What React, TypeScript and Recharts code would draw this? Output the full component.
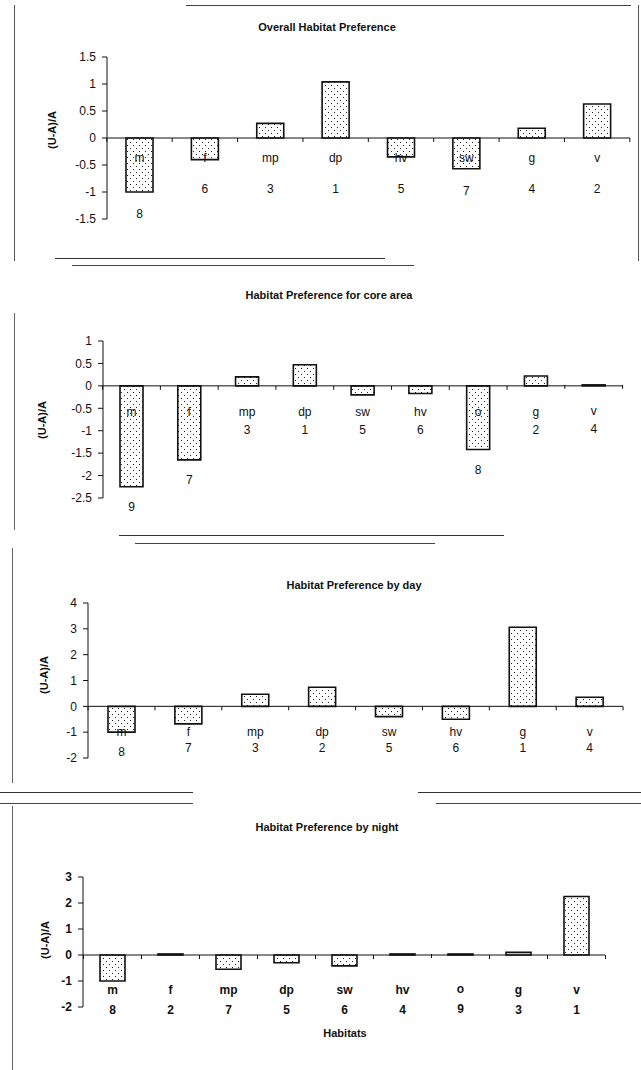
import React from 'react';
import { BarChart, Bar, XAxis, YAxis, ReferenceLine, LabelList } from 'recharts';

const FONT = '"Liberation Sans", Arial, sans-serif';
const W = 641;

// Overall habitat preference
const overallCats = ['m', 'f', 'mp', 'dp', 'hv', 'sw', 'g', 'v'];
const overallValues = [-1.0, -0.4, 0.27, 1.04, -0.35, -0.57, 0.18, 0.63];
const overallRanks = [8, 6, 3, 1, 5, 7, 4, 2];
const overallTicks = [-1.5, -1, -0.5, 0, 0.5, 1, 1.5];

// core area
const coreCats = ['m', 'f', 'mp', 'dp', 'sw', 'hv', 'o', 'g', 'v'];
const coreValues = [-2.25, -1.65, 0.2, 0.47, -0.2, -0.17, -1.42, 0.22, 0];
const coreRanks = [9, 7, 3, 1, 5, 6, 8, 2, 4];
const coreTicks = [-2.5, -2, -1.5, -1, -0.5, 0, 0.5, 1];

// by day
const dayCats = ['m', 'f', 'mp', 'dp', 'sw', 'hv', 'g', 'v'];
const dayValues = [-1.0, -0.68, 0.47, 0.74, -0.4, -0.5, 3.06, 0.35];
const dayRanks = [8, 7, 3, 2, 5, 6, 1, 4];
const dayTicks = [-2, -1, 0, 1, 2, 3, 4];

// by night
const nightCats = ['m', 'f', 'mp', 'dp', 'sw', 'hv', 'o', 'g', 'v'];
const nightValues = [-1.0, 0.04, -0.55, -0.3, -0.42, 0.04, 0, 0.1, 2.25];
const nightRanks = [8, 2, 7, 5, 6, 4, 9, 3, 1];
const nightTicks = [-2, -1, 0, 1, 2, 3];

type PanelProps = {
  cats: string[];
  values: number[];
  ranks: number[];
  ticks: number[];
  top: number;
  height: number;
  plotLeft: number;
  plotRight: number;
  plotTop: number;
  plotBottom: number;
  barSize: number;
  catOffset: number;
  rankOffset: number;
  rankDrop: number;
  boldLabels?: boolean;
};

const YW = 40;

function Panel(p: PanelProps) {
  const data = p.cats.map((c, i) => ({ name: c, value: p.values[i], rank: p.ranks[i] }));
  const band = (p.plotRight - p.plotLeft) / p.cats.length;
  const weight = p.boldLabels ? 'bold' : 'normal';

  // bar rect -> zero line and bar bottom in pixels
  const edges = (props: any, i: number) => {
    const { y, height } = props;
    const t = Math.min(y, y + height);
    const b = Math.max(y, y + height);
    return { zero: p.values[i] > 0 ? b : t, bottom: b };
  };

  const catLabel = (props: any) => {
    const i = p.cats.indexOf(props.value);
    if (i < 0) return null;
    const { zero } = edges(props, i);
    const cx = props.x + props.width / 2;
    return (
      <g>
        <line x1={cx - band / 2} x2={cx - band / 2} y1={zero} y2={zero + 4} stroke="#111" />
        {i === p.cats.length - 1 && (
          <line x1={cx + band / 2} x2={cx + band / 2} y1={zero} y2={zero + 4} stroke="#111" />
        )}
        <text x={cx} y={zero + p.catOffset} textAnchor="middle" dominantBaseline="central"
          fontSize={12} fontFamily={FONT} fontWeight={weight} fill="#111">
          {p.cats[i]}
        </text>
      </g>
    );
  };

  const rankLabel = (props: any) => {
    const i = p.ranks.indexOf(Number(props.value));
    if (i < 0) return null;
    const { zero, bottom } = edges(props, i);
    const ry = Math.max(zero + p.rankOffset, bottom + p.rankDrop);
    return (
      <text x={props.x + props.width / 2} y={ry} textAnchor="middle" dominantBaseline="central"
        fontSize={12} fontFamily={FONT} fontWeight={weight} fill="#111">
        {p.ranks[i]}
      </text>
    );
  };

  return (
    <div style={{ position: 'absolute', left: 0, top: p.top }}>
      <BarChart
        width={W}
        height={p.height}
        data={data}
        margin={{ top: p.plotTop, bottom: p.height - p.plotBottom, left: p.plotLeft - YW, right: W - p.plotRight }}
      >
        <XAxis dataKey="name" hide />
        <YAxis
          width={YW}
          domain={[p.ticks[0], p.ticks[p.ticks.length - 1]]}
          ticks={p.ticks}
          interval={0}
          axisLine={{ stroke: '#111' }}
          tickLine={{ stroke: '#111' }}
          tickSize={5}
          tickMargin={6}
          tick={{ fontSize: 12, fontFamily: FONT, fill: '#111', fontWeight: weight }}
        />
        <ReferenceLine y={0} stroke="#111" />
        <Bar dataKey="value" barSize={p.barSize} minPointSize={1} fill="url(#dots)" stroke="#111"
          strokeWidth={1.6} isAnimationActive={false}>
          <LabelList dataKey="name" content={catLabel} />
          <LabelList dataKey="rank" content={rankLabel} />
        </Bar>
      </BarChart>
    </div>
  );
}

const Txt = ({ x, y, children, size = 11, bold = true, rotate = false }: any) => (
  <div
    style={{
      position: 'absolute', left: x, top: y, whiteSpace: 'nowrap',
      transform: `translate(-50%, -50%)${rotate ? ' rotate(-90deg)' : ''}`,
      fontFamily: FONT, fontSize: size, fontWeight: bold ? 'bold' : 'normal', color: '#111',
    }}
  >
    {children}
  </div>
);

const Ln = ({ x, y, w = 1, h = 1, c = '#333' }: any) => (
  <div style={{ position: 'absolute', left: x, top: y, width: w, height: h, background: c }} />
);

export default function App() {
  return (
    <div style={{ position: 'absolute', left: 0, top: 0, width: W, height: 1070, background: '#fff', overflow: 'hidden' }}>
      <svg width={0} height={0} style={{ position: 'absolute' }}>
        <defs>
          <pattern id="dots" width={6} height={6} patternUnits="userSpaceOnUse">
            <rect width={6} height={6} fill="#fff" />
            <rect x={1} y={1} width={1} height={1} fill="#222" />
            <rect x={4} y={4} width={1} height={1} fill="#222" />
          </pattern>
        </defs>
      </svg>

      {/* scanned panel frames */}
      <Ln x={14} y={5} h={256} c="#555" />
      <Ln x={186} y={5} w={445} c="#444" />
      <Ln x={638} y={5} h={256} c="#555" />
      <Ln x={55} y={258} w={330} c="#333" />
      <Ln x={72} y={265} w={342} c="#444" />
      <Ln x={14} y={313} h={217} c="#666" />
      <Ln x={119} y={535} w={385} c="#333" />
      <Ln x={135} y={543} w={300} c="#444" />
      <Ln x={12} y={548} h={235} c="#666" />
      <Ln x={0} y={792} w={193} c="#333" />
      <Ln x={418} y={792} w={223} c="#333" />
      <Ln x={0} y={803} w={193} c="#444" />
      <Ln x={436} y={803} w={205} c="#444" />
      <Ln x={12} y={806} h={264} c="#666" />

      <Panel cats={overallCats} values={overallValues} ranks={overallRanks} ticks={overallTicks}
        top={0} height={262} plotLeft={107} plotRight={630} plotTop={57} plotBottom={219}
        barSize={27} catOffset={20} rankOffset={51} rankDrop={22} />
      <Txt x={327} y={27}>Overall Habitat Preference</Txt>
      <Txt x={52} y={130} rotate>(U-A)/A</Txt>

      <Panel cats={coreCats} values={coreValues} ranks={coreRanks} ticks={coreTicks}
        top={265} height={260} plotLeft={103} plotRight={623} plotTop={76} plotBottom={233}
        barSize={23} catOffset={26} rankOffset={44} rankDrop={20} />
      <Txt x={329} y={295}>Habitat Preference for core area</Txt>
      <Txt x={42} y={420} rotate>(U-A)/A</Txt>

      <Panel cats={dayCats} values={dayValues} ranks={dayRanks} ticks={dayTicks}
        top={530} height={260} plotLeft={88} plotRight={623} plotTop={73} plotBottom={228}
        barSize={27} catOffset={26} rankOffset={42} rankDrop={20} />
      <Txt x={354} y={585}>Habitat Preference by day</Txt>
      <Txt x={44} y={675} rotate>(U-A)/A</Txt>

      <Panel cats={nightCats} values={nightValues} ranks={nightRanks} ticks={nightTicks}
        top={795} height={275} plotLeft={83} plotRight={605} plotTop={82} plotBottom={212}
        barSize={25} catOffset={35} rankOffset={55} rankDrop={20} boldLabels />
      <Txt x={327} y={827}>Habitat Preference by night</Txt>
      <Txt x={45} y={940} rotate>(U-A)/A</Txt>
      <Txt x={345} y={1033}>Habitats</Txt>
    </div>
  );
}
